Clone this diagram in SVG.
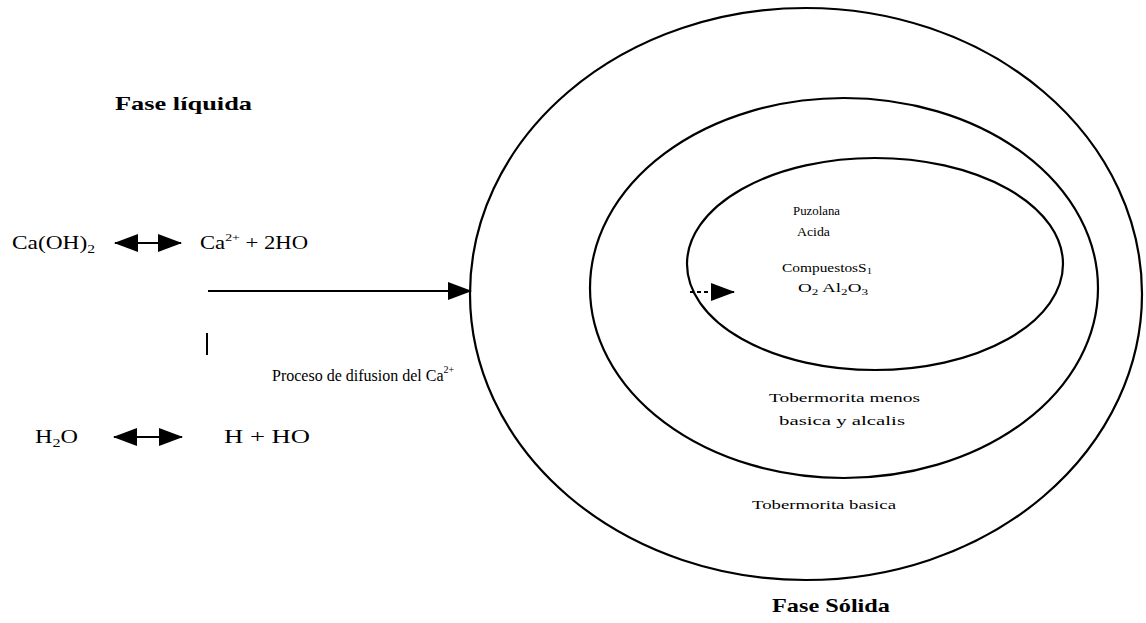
<svg xmlns="http://www.w3.org/2000/svg" width="1146" height="623" viewBox="0 0 1146 623">
<style>
.t{font-family:"Liberation Serif","Times New Roman",serif;fill:#000}
.b{font-weight:bold}
.ring{fill:none;stroke:#000;stroke-width:2.2}
.ln{stroke:#000;stroke-width:2;fill:none}
</style>
<defs>
<marker id="head" viewBox="0 0 24 18" refX="23" refY="9" markerWidth="24" markerHeight="18" markerUnits="userSpaceOnUse" orient="auto-start-reverse">
<path d="M0,0 L24,9 L0,18 Z" fill="#000"/>
</marker>
</defs>
<rect width="1146" height="623" fill="#fff"/>
<g id="rings">
<ellipse id="outer" class="ring" cx="806" cy="294" rx="336" ry="286"/>
<ellipse id="middle" class="ring" cx="844" cy="288" rx="254" ry="190"/>
<ellipse id="inner" class="ring" cx="875" cy="264" rx="188" ry="106"/>
</g>
<g id="connectors">
<line class="ln" x1="115" y1="243" x2="181" y2="243" marker-start="url(#head)" marker-end="url(#head)"/>
<line class="ln" x1="114" y1="437" x2="182" y2="437" marker-start="url(#head)" marker-end="url(#head)"/>
<line class="ln" x1="208" y1="291" x2="471" y2="291" marker-end="url(#head)"/>
<line class="ln" x1="690" y1="292" x2="734" y2="292" stroke-dasharray="4 3" marker-end="url(#head)"/>
<line class="ln" x1="207" y1="333" x2="207" y2="355"/>
</g>
<g id="liquid">
<text class="t b" x="115" y="110" font-size="19" textLength="137" lengthAdjust="spacingAndGlyphs">Fase líquida</text>
<text class="t" x="12" y="249" font-size="18" textLength="83" lengthAdjust="spacingAndGlyphs">Ca(OH)<tspan font-size="12" dy="4">2</tspan></text>
<text class="t" x="200" y="249" font-size="18" textLength="108" lengthAdjust="spacingAndGlyphs">Ca<tspan font-size="11" dy="-8">2+</tspan><tspan dy="8"> + 2HO</tspan></text>
<text class="t" x="35" y="443" font-size="18" textLength="43" lengthAdjust="spacingAndGlyphs">H<tspan font-size="12" dy="4">2</tspan><tspan dy="-4">O</tspan></text>
<text class="t" x="224" y="443" font-size="18" textLength="86" lengthAdjust="spacingAndGlyphs">H + HO</text>
<text class="t" x="272" y="381" font-size="16">Proceso de difusion del Ca<tspan font-size="10" dy="-8">2+</tspan></text>
</g>
<g id="solid">
<text class="t" x="793" y="215" font-size="13" textLength="47" lengthAdjust="spacingAndGlyphs">Puzolana</text>
<text class="t" x="797" y="236" font-size="13" textLength="33" lengthAdjust="spacingAndGlyphs">Acida</text>
<text class="t" x="782" y="272" font-size="13" textLength="90" lengthAdjust="spacingAndGlyphs">CompuestosS<tspan font-size="9" dy="2">1</tspan></text>
<text class="t" x="798" y="292" font-size="13" textLength="70" lengthAdjust="spacingAndGlyphs">O<tspan font-size="9" dy="3">2</tspan><tspan dy="-3">  Al</tspan><tspan font-size="9" dy="3">2</tspan><tspan dy="-3">O</tspan><tspan font-size="9" dy="3">3</tspan></text>
<text class="t" x="769" y="402" font-size="13" textLength="151" lengthAdjust="spacingAndGlyphs">Tobermorita menos</text>
<text class="t" x="779" y="425" font-size="13" textLength="126" lengthAdjust="spacingAndGlyphs">basica y alcalis</text>
<text class="t" x="752" y="509" font-size="13" textLength="144" lengthAdjust="spacingAndGlyphs">Tobermorita basica</text>
<text class="t b" x="772" y="612" font-size="19" textLength="118" lengthAdjust="spacingAndGlyphs">Fase Sólida</text>
</g>
</svg>
